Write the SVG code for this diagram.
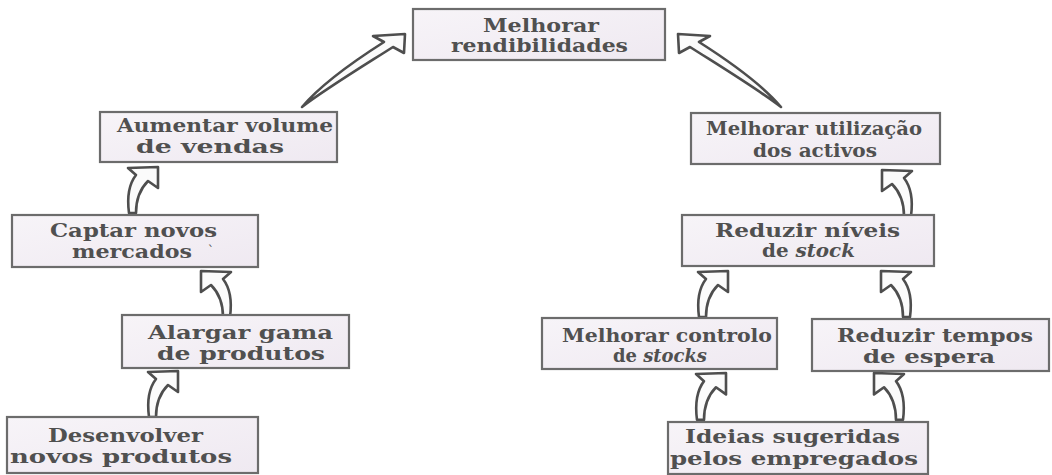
<svg xmlns="http://www.w3.org/2000/svg" width="1052" height="475" viewBox="0 0 1052 475">
<style>
.box{fill:url(#bg);stroke:#6c6c6c;stroke-width:2.2}
.t{font-family:"DejaVu Serif","Liberation Serif",serif;font-weight:bold;font-size:18.5px;fill:#505050;text-anchor:middle}
.i{font-style:italic}
.arr{fill:#fbfbfb;stroke:#4e4e4e;stroke-width:2.6;stroke-linejoin:round}
</style>
<defs>
<linearGradient id="bg" x1="0" y1="0" x2="1" y2="1">
<stop offset="0" stop-color="#f7f4f8"/>
<stop offset="1" stop-color="#efe9f1"/>
</linearGradient>
<path id="sa" d="M31,0 L1,1 L9,8 C2,17 0,31 2,46 L9,46 C9,33 13,22 21,14 L31,21 Z"/>
<path id="ba" d="M405,34 L373,36 L384,42 C351,63 318,88 302,107 C324,90 360,68 393,47 L404,53 Z"/>
</defs>
<rect width="1052" height="475" fill="#ffffff"/>
<g id="connectors">
<use href="#ba" class="arr"/>
<use href="#ba" class="arr" transform="translate(1083,0) scale(-1,1)"/>
<use href="#sa" class="arr" transform="translate(127,167)"/>
<use href="#sa" class="arr" transform="translate(232,271) scale(-1,1)"/>
<use href="#sa" class="arr" transform="translate(147,371)"/>
<use href="#sa" class="arr" transform="translate(913,170) scale(-1,1)"/>
<use href="#sa" class="arr" transform="translate(697,271)"/>
<use href="#sa" class="arr" transform="translate(912,271) scale(-1,1)"/>
<use href="#sa" class="arr" transform="translate(695,373) scale(1,1.02)"/>
<use href="#sa" class="arr" transform="translate(905,373) scale(-1,1.02)"/>
</g>
<g id="n-rendibilidades">
<rect class="box" x="413" y="9" width="252" height="51"/>
<text class="t"><tspan x="541" y="32" textLength="116" lengthAdjust="spacingAndGlyphs">Melhorar</tspan><tspan x="539.5" y="52" textLength="177" lengthAdjust="spacingAndGlyphs">rendibilidades</tspan></text>
</g>
<g id="n-vendas">
<rect class="box" x="100" y="112" width="237" height="50"/>
<text class="t"><tspan x="225" y="132" textLength="216" lengthAdjust="spacingAndGlyphs">Aumentar volume</tspan><tspan x="210" y="153" textLength="148" lengthAdjust="spacingAndGlyphs">de vendas</tspan></text>
</g>
<g id="n-mercados">
<rect class="box" x="12" y="215" width="246" height="52"/>
<text class="t"><tspan x="133.5" y="237" textLength="167" lengthAdjust="spacingAndGlyphs">Captar novos</tspan><tspan x="132" y="258" textLength="120" lengthAdjust="spacingAndGlyphs">mercados</tspan><tspan x="211" y="255" style="font-size:13px;font-weight:normal">`</tspan></text>
</g>
<g id="n-gama">
<rect class="box" x="122" y="315" width="227" height="53"/>
<text class="t"><tspan x="240.5" y="339" textLength="185" lengthAdjust="spacingAndGlyphs">Alargar gama</tspan><tspan x="241" y="360" textLength="168" lengthAdjust="spacingAndGlyphs">de produtos</tspan></text>
</g>
<g id="n-desenvolver">
<rect class="box" x="7" y="417" width="251" height="56"/>
<text class="t"><tspan x="125.5" y="442" textLength="155" lengthAdjust="spacingAndGlyphs">Desenvolver</tspan><tspan x="121" y="463" textLength="222" lengthAdjust="spacingAndGlyphs">novos produtos</tspan></text>
</g>
<g id="n-activos">
<rect class="box" x="691" y="113" width="249" height="51"/>
<text class="t"><tspan x="814" y="135" textLength="216" lengthAdjust="spacingAndGlyphs">Melhorar utilização</tspan><tspan x="815" y="157" textLength="124" lengthAdjust="spacingAndGlyphs">dos activos</tspan></text>
</g>
<g id="n-niveis">
<rect class="box" x="682" y="215" width="252" height="51"/>
<text class="t"><tspan x="807.5" y="237" textLength="185" lengthAdjust="spacingAndGlyphs">Reduzir níveis</tspan><tspan x="808.5" y="257" textLength="93" lengthAdjust="spacingAndGlyphs">de <tspan class="i">stock</tspan></tspan></text>
</g>
<g id="n-controlo">
<rect class="box" x="542" y="318" width="235" height="51"/>
<text class="t"><tspan x="667" y="342" textLength="210" lengthAdjust="spacingAndGlyphs">Melhorar controlo</tspan><tspan x="660" y="362" textLength="94" lengthAdjust="spacingAndGlyphs">de <tspan class="i">stocks</tspan></tspan></text>
</g>
<g id="n-tempos">
<rect class="box" x="812" y="319" width="237" height="52"/>
<text class="t"><tspan x="935" y="342" textLength="196" lengthAdjust="spacingAndGlyphs">Reduzir tempos</tspan><tspan x="929" y="363" textLength="132" lengthAdjust="spacingAndGlyphs">de espera</tspan></text>
</g>
<g id="n-ideias">
<rect class="box" x="668" y="422" width="260" height="52"/>
<text class="t"><tspan x="792.5" y="443" textLength="215" lengthAdjust="spacingAndGlyphs">Ideias sugeridas</tspan><tspan x="794" y="465" textLength="248" lengthAdjust="spacingAndGlyphs">pelos empregados</tspan></text>
</g>
</svg>
